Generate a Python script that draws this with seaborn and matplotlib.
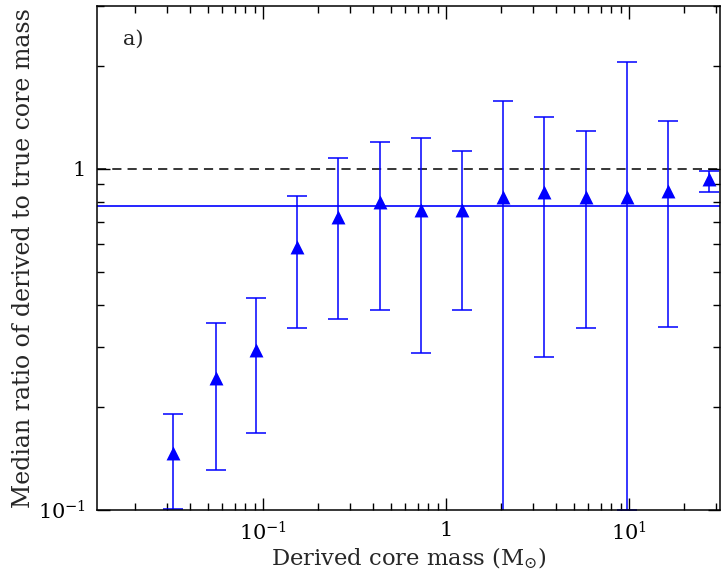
import numpy as np
import pandas as pd
import matplotlib
matplotlib.use("Agg")
import matplotlib.pyplot as plt
import matplotlib.ticker as mticker
import seaborn as sns

# values
mass = [0.0322, 0.0553, 0.0916, 0.153, 0.257, 0.436, 0.73,
        1.22, 2.05, 3.43, 5.82, 9.75, 16.3, 27.4]
ratio = [0.147, 0.244, 0.294, 0.59, 0.723, 0.80, 0.758,
         0.758, 0.828, 0.857, 0.828, 0.828, 0.862, 0.935]
ratio_hi = [0.191, 0.354, 0.418, 0.834, 1.077, 1.20, 1.23,
            1.13, 1.58, 1.42, 1.29, 2.06, 1.38, 0.987]
ratio_lo = [0.101, 0.131, 0.168, 0.342, 0.363, 0.386, 0.289,
            0.386, 0.05, 0.281, 0.342, 0.1, 0.344, 0.857]
overall_median = 0.779

df = pd.DataFrame({'mass': mass, 'ratio': ratio, 'hi': ratio_hi, 'lo': ratio_lo})

sns.set_style("ticks")
plt.rcParams['font.family'] = ['DejaVu Serif']
plt.rcParams['mathtext.fontset'] = 'dejavuserif'

fig = plt.figure(figsize=(7.26, 5.75), dpi=100)
ax = fig.add_axes([0.1336, 0.113, 0.8581, 0.8766])

blue = '#0000ff'
yerr = np.array([df['ratio'] - df['lo'], df['hi'] - df['ratio']])
ax.errorbar(df['mass'], df['ratio'], yerr=yerr, fmt='none', ecolor=blue,
            elinewidth=1.1, capsize=7.5, capthick=1.1, zorder=2)
sns.scatterplot(data=df, x='mass', y='ratio', marker='^', s=100, color=blue,
                edgecolor=blue, linewidth=0, ax=ax, zorder=3)

ax.axhline(1.0, color='black', linestyle=(0, (6, 4)), linewidth=1.1, zorder=1)
ax.axhline(overall_median, color=blue, linewidth=1.2, zorder=1)

ax.set_xscale('log')
ax.set_yscale('log')
ax.set_xlim(10 ** -1.907, 10 ** 1.497)
ax.set_ylim(0.1, 3.0)

ax.set_xticks([0.1, 1, 10])
ax.set_xticklabels([r'$10^{-1}$', '1', r'$10^{1}$'])
ax.set_yticks([0.1, 1])
ax.set_yticklabels([r'$10^{-1}$', '1'])
ax.xaxis.set_minor_locator(mticker.LogLocator(base=10, subs=np.arange(2, 10)))
ax.yaxis.set_minor_locator(mticker.LogLocator(base=10, subs=np.arange(2, 10)))
ax.xaxis.set_minor_formatter(mticker.NullFormatter())
ax.yaxis.set_minor_formatter(mticker.NullFormatter())

ax.tick_params(which='both', direction='in', top=True, right=True,
               width=1, colors='black', labelsize=15)
ax.tick_params(which='major', length=9, pad=8)
ax.tick_params(which='minor', length=5)
for sp in ax.spines.values():
    sp.set_linewidth(1.1)
    sp.set_color('black')

ax.set_xlabel(r'Derived core mass (M$_{\odot}$)', fontsize=16.3, labelpad=1)
ax.set_ylabel('Median ratio of derived to true core mass', fontsize=17, labelpad=2)
ax.text(0.042, 0.933, 'a)', transform=ax.transAxes, fontsize=15, va='center')

fig.savefig('out.png', dpi=100)
